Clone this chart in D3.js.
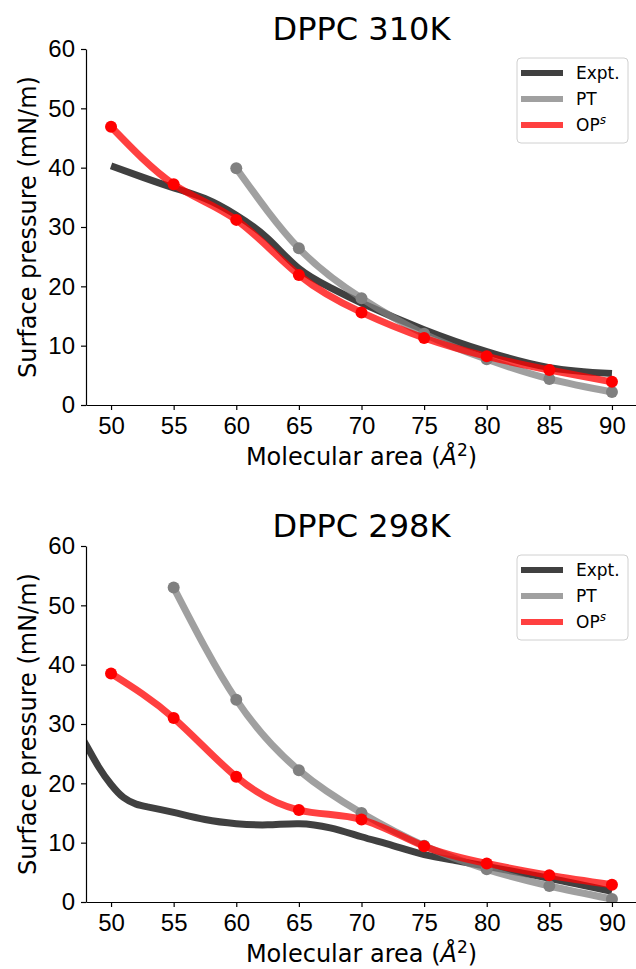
<!DOCTYPE html>
<html>
<head>
<meta charset="utf-8">
<script src="https://cdn.jsdelivr.net/npm/d3@7"></script>
<style>
  body { margin: 0; background: #fff; }
  svg { font-family: "DejaVu Sans", sans-serif; }
</style>
</head>
<body>
<div id="chart"></div>
<script>
// ticks
const xTicks = [50, 55, 60, 65, 70, 75, 80, 85, 90];
const yTicks = [0, 10, 20, 30, 40, 50, 60];

// DPPC 310K
const expt310Area = [50, 52.5, 55, 57.5, 60, 62.5, 65, 67.5, 70, 75, 80, 85, 90];
const expt310 = [40.3, 38.4, 36.6, 34.8, 32.0, 28.1, 23.0, 19.8, 17.2, 12.7, 9.0, 6.3, 5.3];
const pt310Area = [60, 65, 70, 75, 80, 85, 90];
const pt310 = [39.9, 26.4, 18.0, 12.0, 7.7, 4.4, 2.2];
const op310Area = [50, 55, 60, 65, 70, 75, 80, 85, 90];
const op310 = [46.9, 37.2, 31.2, 21.9, 15.6, 11.3, 8.2, 5.9, 3.9];

// DPPC 298K
const expt298Area = [47, 48, 49, 50, 51, 52, 53, 55, 57.5, 60, 62.5, 65, 67.5, 70, 72.5, 75, 77.5, 80, 85, 90];
const expt298 = [30.0, 26.5, 22.8, 19.8, 17.6, 16.5, 16.0, 15.1, 13.9, 13.2, 13.0, 13.2, 12.5, 11.0, 9.5, 8.0, 7.0, 6.0, 4.0, 1.8];
const pt298Area = [55, 60, 65, 70, 75, 80, 85, 90];
const pt298 = [53.0, 34.1, 22.2, 15.0, 9.5, 5.5, 2.7, 0.5];
const op298Area = [50, 55, 60, 65, 70, 75, 80, 85, 90];
const op298 = [38.5, 31.0, 21.1, 15.5, 13.9, 9.4, 6.5, 4.5, 2.9];

const W = 636, H = 969;
const svg = d3.select("#chart").append("svg").attr("width", W).attr("height", H);

function panel(top, title, series, id) {
  const m = { left: 86, right: 637, top: top, bottom: top + 356 };
  const x = d3.scaleLinear().domain([48, 92]).range([m.left, m.right]);
  const y = d3.scaleLinear().domain([0, 60]).range([m.bottom, m.top]);
  const g = svg.append("g");

  g.append("defs").append("clipPath").attr("id", "clip" + id)
    .append("rect").attr("x", m.left).attr("y", m.top - 10)
    .attr("width", m.right - m.left).attr("height", m.bottom - m.top + 10);

  // title
  g.append("text").attr("x", (m.left + m.right) / 2).attr("y", top - 9)
    .attr("text-anchor", "middle").style("font-size", "32px").text(title);

  // series
  const plot = g.append("g").attr("clip-path", `url(#clip${id})`);
  series.forEach((s) => {
    const pts = s.area.map((a, i) => [a, s.value[i]]);
    plot.append("path").datum(pts)
      .attr("fill", "none").attr("stroke", s.line).attr("stroke-width", 7)
      .attr("stroke-linecap", "butt")
      .attr("d", d3.line().x((d) => x(d[0])).y((d) => y(d[1])).curve(d3.curveNatural));
    if (s.marker) {
      plot.selectAll(null).data(pts).join("circle")
        .attr("cx", (d) => x(d[0])).attr("cy", (d) => y(d[1]))
        .attr("r", 6).attr("fill", s.marker);
    }
  });

  // axes
  const xa = g.append("g").attr("transform", `translate(0,${m.bottom})`)
    .call(d3.axisBottom(x).tickValues(xTicks).tickSize(5).tickSizeOuter(0).tickPadding(7));
  const ya = g.append("g").attr("transform", `translate(${m.left},0)`)
    .call(d3.axisLeft(y).tickValues(yTicks).tickSize(5).tickSizeOuter(0).tickPadding(6));
  [xa, ya].forEach((a) => {
    a.selectAll("text").style("font-size", "24px").attr("fill", "#000");
    a.selectAll("line, path").attr("stroke", "#000").attr("stroke-width", 1.2);
  });

  // axis labels
  const xl = g.append("text").attr("x", (m.left + m.right) / 2).attr("y", m.bottom + 60)
    .attr("text-anchor", "middle").style("font-size", "24px");
  xl.append("tspan").text("Molecular area (");
  xl.append("tspan").style("font-style", "italic").text("Å");
  xl.append("tspan").attr("dy", -9).style("font-size", "17px").text("2");
  xl.append("tspan").attr("dy", 9).text(")");

  g.append("text")
    .attr("transform", `translate(36,${(m.top + m.bottom) / 2}) rotate(-90)`)
    .attr("text-anchor", "middle").style("font-size", "24px")
    .text("Surface pressure (mN/m)");

  // legend
  const lg = g.append("g").attr("transform", `translate(517,${m.top + 9})`);
  lg.append("rect").attr("width", 111).attr("height", 85).attr("rx", 4)
    .attr("fill", "#fff").attr("fill-opacity", 0.8).attr("stroke", "#d0d0d0");
  series.forEach((s, i) => {
    const yy = 15 + i * 26;
    lg.append("line").attr("x1", 4).attr("x2", 46).attr("y1", yy).attr("y2", yy)
      .attr("stroke", s.line).attr("stroke-width", 6);
    const t = lg.append("text").attr("x", 59).attr("y", yy + 6).style("font-size", "17px");
    t.append("tspan").text(s.name);
    if (s.sup) {
      t.append("tspan").attr("dy", -7).style("font-size", "12px")
        .style("font-style", "italic").text(s.sup);
    }
  });
}

const col = {
  expt: "rgba(0,0,0,0.75)",
  pt: "rgba(128,128,128,0.75)",
  op: "rgba(255,0,0,0.75)",
};

panel(49, "DPPC 310K", [
  { name: "Expt.", area: expt310Area, value: expt310, line: col.expt },
  { name: "PT", area: pt310Area, value: pt310, line: col.pt, marker: "#808080" },
  { name: "OP", sup: "s", area: op310Area, value: op310, line: col.op, marker: "#ff0000" },
], "a");

panel(546, "DPPC 298K", [
  { name: "Expt.", area: expt298Area, value: expt298, line: col.expt },
  { name: "PT", area: pt298Area, value: pt298, line: col.pt, marker: "#808080" },
  { name: "OP", sup: "s", area: op298Area, value: op298, line: col.op, marker: "#ff0000" },
], "b");
</script>
</body>
</html>
